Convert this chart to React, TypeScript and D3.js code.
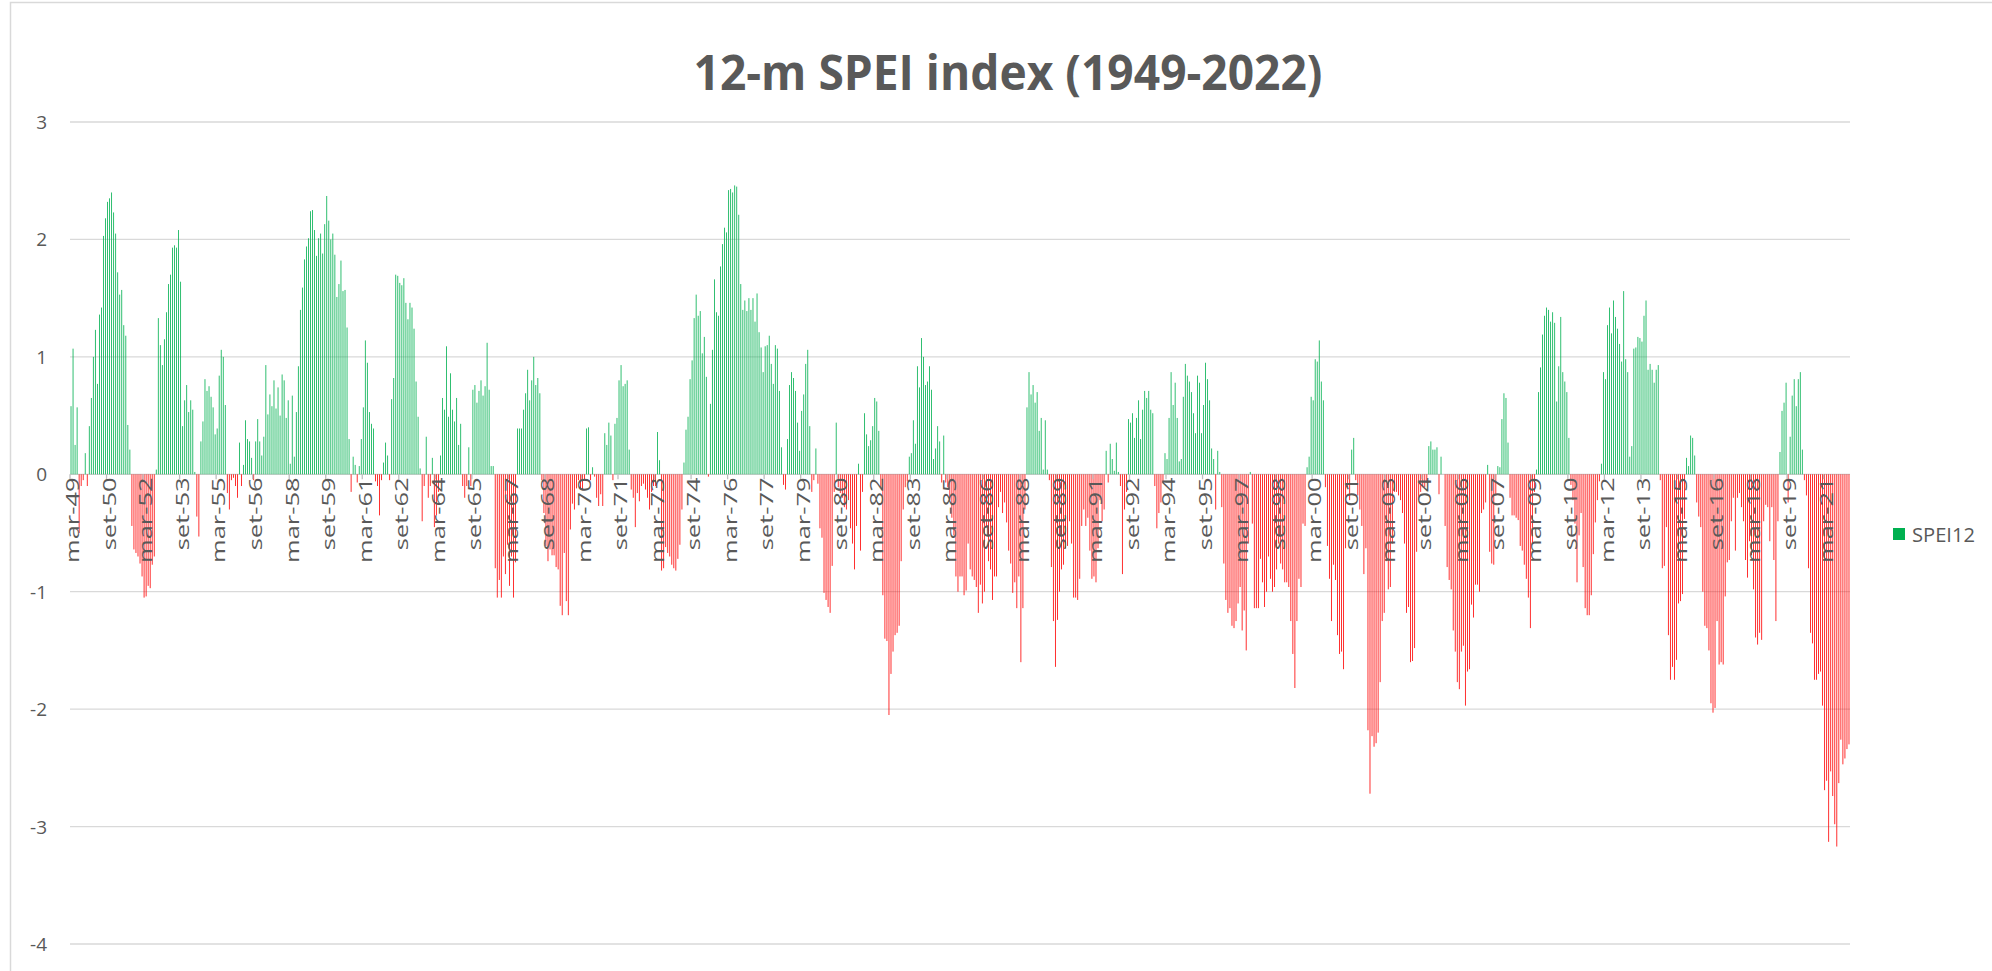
import * as d3 from 'd3'

// 12-month SPEI, monthly from mar-49 to mar-22
const speiMar49 = [
  0.58, 1.07, 0.25, 0.57, -0.5, -0.1, -0.05, 0.18, -0.1, 0.41,
  0.65, 1.0, 1.23, 0.77, 1.36, 1.42, 2.03, 2.18, 2.32, 2.35,
  2.4, 2.23, 2.05, 1.72, 1.53, 1.57, 1.27, 1.18, 0.42, 0.21,
  -0.44, -0.64, -0.67, -0.7, -0.76, -0.87, -1.05, -1.04, -0.95, -0.97,
  -0.77, -0.7, 0.04, 1.33, 1.1, 0.93, 1.15, 1.38, 1.62, 1.7,
  1.93, 1.95, 1.93, 2.08, 1.64, 0.41, 0.63, 0.76, 0.53, 0.63,
  0.55, 0.02, -0.36, -0.53, 0.28, 0.45, 0.81, 0.71, 0.75, 0.66,
  0.57, 0.34, 0.39, 0.84, 1.06, 1.0, 0.59, -0.16, -0.3, -0.05,
  -0.03, -0.1, -0.2, 0.27, -0.1, 0.08, 0.46, 0.3, 0.28, 0.14,
  -0.05, 0.28, 0.47, 0.28, 0.16, 0.32, 0.93, 0.51, 0.68, 0.58,
  0.8, 0.56, 0.74, 0.5, 0.85, 0.8, 0.48, 0.63, 0.09,
]
const speiApr58 = [
  0.67, 0.15, 0.53, 0.92, 1.4, 1.59, 1.83, 1.94, 2.01, 2.24,
  2.25, 2.08, 1.86, 2.01, 2.05, 1.88, 2.13, 2.37, 2.16, 2.0,
  2.05, 1.87, 1.51, 1.62, 1.82, 1.56, 1.57, 1.25, 0.3, -0.15,
  0.15, 0.08, -0.07, 0.07, 0.3, 0.57, 1.14, 0.95, 0.53, 0.43,
  0.39, -0.06, -0.1, -0.35, -0.05, 0.1, 0.27, 0.16, -0.05, 0.64,
  0.82, 1.7, 1.69, 1.63, 1.61, 1.67, 1.46, 1.32, 1.46, 1.42,
  1.24, 0.79, 0.49, 0.05, -0.4, -0.1, 0.32, -0.2, -0.1, 0.14,
  -0.45, -0.35, -0.15, 0.16, 0.65, 0.55, 1.09, 0.49, 0.86, 0.55,
  0.45, 0.65, 0.25, 0.43, -0.1, -0.2, -0.1, 0.23, -0.1, 0.72,
  0.76, 0.61, 0.71, 0.8, 0.67, 0.75, 1.12, 0.72, 0.07, 0.07,
  -0.8, -1.05, -0.9, -1.05, -0.7, -0.85, -0.6, -0.95, -0.7, -1.05, -0.75,
]
const speiJul67 = [
  0.39, 0.39, 0.39, 0.55, 0.69, 0.89, 0.63, 0.8, 1.0, 0.76, 0.82, 0.69,
  -0.05, -0.33, -0.61, -0.74, -0.64, -0.69, -0.69, -0.79, -0.81, -1.12, -1.2,
  -0.67, -1.08, -1.2, -0.47, -0.25, -0.3, -0.12, -0.05, -0.13, -0.13, -0.05,
  0.39, 0.4, -0.05, 0.06, -0.02, -0.2, -0.27, -0.17, -0.27, 0.35, 0.25,
  0.44, 0.33, -0.05, 0.43, 0.48, 0.8, 0.93, 0.75, 0.77, 0.8, 0.21,
  -0.13, -0.2, -0.45, -0.16, -0.23, -0.1, -0.08, -0.13, -0.2, -0.3, -0.15, -0.1, -0.1,
  0.36, 0.12,
  -0.82, -0.8, -0.62, -0.67, -0.7, -0.77, -0.8, -0.82, -0.72, -0.6, -0.3,
  0.1, 0.38, 0.49, 0.81, 0.97, 1.33, 1.53, 1.35, 1.39, 1.03, 1.17, 0.83, -0.02,
  0.6, 1.06, 1.66, 1.38, 1.35, 1.77, 1.96, 2.1, 2.06, 2.42, 2.43, 2.4, 2.46,
]
const speiJul76 = [
  2.45, 2.21, 1.62, 1.4, 1.48, 1.39, 1.5, 1.4, 1.5, 1.3,
  1.54, 1.21, 1.08, 0.87, 1.09, 1.1, 1.18, 0.94, 0.77, 1.1,
  1.07, 0.71, 0.23, -0.09, -0.13, 0.3, 0.76, 0.87, 0.82, 0.71,
  0.44, 0.2, 0.54, 0.68, 0.94, 1.06, 0.41, -0.15, -0.05, 0.22,
  -0.08, -0.46, -0.54, -1.01, -1.07, -1.13, -1.18, -0.78, -0.15, 0.44,
  -0.11, -0.16, -0.2, -0.28, -0.3, -0.22, -0.46, -0.59, -0.81, -0.44,
  0.09, -0.65, -0.15, 0.52, 0.34, 0.24, 0.29, 0.41, 0.65, 0.62,
  0.37, -0.11, -1.03, -1.4, -1.42, -2.05, -1.7, -1.51, -1.37, -1.35,
  -1.29, -0.74, -0.3, -0.11, -0.06, 0.15, 0.18, 0.46, 0.26, 0.92,
  0.74, 1.16, 1.0, 0.76, 0.79, 0.92, 0.72, 0.13, 0.22, 0.41,
  0.28, -0.07, 0.33, -0.07, -0.11, -0.22, -0.37, -0.52, -0.87, -1.0,
]
const speiSep85 = [
  -0.87, -0.87, -1.03, -0.99, -0.59, -0.81, -0.87, -0.9, -0.96, -1.18,
  -0.94, -1.1, -1.0, -0.44, -0.74, -0.81, -1.07, -0.87, -0.87, -0.28,
  -0.15, -0.33, -0.24, -0.41, -0.65, -0.76, -1.01, -0.92, -1.14, -0.87,
  -1.6, -1.14, -0.3, 0.57, 0.87, 0.68, 0.76, 0.61, 0.7, 0.37,
  0.48, 0.04, 0.46, 0.04, -0.05, -0.79, -1.25, -1.64, -1.24, -1.0,
  -0.81, -0.77, -0.63, -0.61, -0.4, -0.59, -1.05, -1.05, -1.07, -0.89,
  -0.44, -0.3, -0.44, -0.37, -0.65, -0.89, -0.87, -0.92, -0.63, -0.22,
  -0.4, -0.3, 0.2, -0.07, 0.26, 0.13, 0.03, 0.27, 0.02, -0.1,
  -0.85, -0.3, -0.15, 0.47, 0.44, 0.52, 0.31, 0.48, 0.63, 0.3,
  0.55, 0.71, 0.65, 0.71, 0.55, 0.52, -0.1, -0.46, -0.33, -0.24,
  -0.06, 0.18, 0.13, 0.48, 0.87, 0.59, 0.78, 0.48, 0.11, 0.13,
  0.66, 0.94, 0.84,
]
const speiFeb95 = [
  0.79, 0.7, 0.52, 0.35, 0.84, 0.78, 0.35, 0.59, 0.95, 0.81,
  0.63, 0.22, 0.13, -0.3, 0.2, 0.02, -0.28, -0.76, -1.07, -1.18,
  -1.14, -1.29, -1.31, -1.25, -1.1, -0.96, -1.33, -1.16, -1.5, -0.59,
  0.02, -0.42, -1.14, -1.14, -1.14, -0.72, -0.92, -1.13, -1.0, -0.7,
  -0.89, -1.0, -0.96, -0.81, -0.59, -0.76, -0.81, -0.92, -0.92, -0.96,
  -1.25, -1.53, -1.82, -1.25, -0.89, -0.96, -0.42, -0.44, 0.06, 0.15,
  0.66, 0.63, 0.98, 0.96, 1.14, 0.79, 0.63, -0.11, -0.61, -0.89,
  -1.25, -0.77, -0.9, -1.37, -1.53, -1.51, -1.66, -0.63, -0.11, -0.22,
  0.21, 0.31, -0.05, -0.18, -0.3, -0.44, -0.85, -0.63, -2.18, -2.72,
  -2.23, -2.32, -2.29, -2.2, -1.77, -1.25, -1.18, -0.74, -0.98, -0.96,
  -0.59, -0.15, -0.15, -0.18, -0.22, -0.33, -0.59, -1.18,
]
const speiFeb04 = [
  -1.13, -1.6, -1.59, -1.48, -0.66, -0.22, -0.15, -0.11, -0.11, -0.07,
  0.24, 0.28, 0.21, 0.21, 0.23, -0.17, 0.15, 0, -0.44, -0.79,
  -0.9, -0.98, -1.33, -1.51, -1.77, -1.83, -1.51, -1.46, -1.97, -1.68,
  -1.66, -1.11, -1.22, -0.94, -0.94, -1.0, -0.33, -0.3, -0.24, 0.08,
  -0.66, -0.76, -0.77, -0.18, 0.07, 0.06, 0.47, 0.69, 0.65, 0.27,
  -0.2, -0.35, -0.35, -0.37, -0.39, -0.61, -0.65, -0.77, -0.89, -1.05,
  -1.31, -0.59, -0.15, 0.04, 0.7, 0.91, 1.19, 1.35, 1.42, 1.4,
  1.3, 1.38, 1.29, 0.62, 0.92, 1.34, 0.87, 0.79, 0.7, 0.31,
  -0.09, -0.22, -0.42, -0.92, -0.52, -0.33, -0.79, -1.14, -1.2, -1.2,
  -1.03, -0.68, -0.41, -0.22, -0.06, 0.09, 0.87, 0.81, 1.27, 1.42,
  1.2, 1.48, 1.34, 1.24, 1.11, 0.96, 1.56, 0.98, 0.87, 0.15,
  0.24, 1.07,
]
const speiJun13 = [
  1.08, 1.17, 1.16, 1.13, 1.35, 1.48, 0.89, 0.94, 0.89, 0.78,
  0.89, 0.93, -0.05, -0.8, -0.78, -0.45, -1.37, -1.75, -1.64, -1.75,
  -1.58, -1.1, -1.08, -1.02, -0.38, 0.14, 0.07, 0.33, 0.31, 0.16,
  -0.24, -0.36, -0.45, -1.0, -1.29, -1.31, -1.5, -1.95, -2.03, -1.99,
  -1.25, -1.62, -1.6, -1.62, -1.04, -0.75, -0.73, -0.4, -0.2, -0.65,
  -0.2, -0.16, -0.28, -0.4, -0.73, -0.88, -0.57, -0.69, -0.98, -1.39,
  -1.45, -1.35, -1.41, -0.4, -0.26, -0.28, -0.57, -0.28, -0.73, -1.25,
  -0.4, 0.19, 0.54, 0.61, 0.78, -0.24, 0.32, 0.67, 0.81, 0.58,
  0.81, 0.87, 0.21, -0.05, -0.18, -0.8, -1.35, -1.44, -1.75, -1.75,
  -1.7, -1.68, -1.97, -2.69, -2.61, -3.13, -2.53, -2.74, -2.98, -3.17,
  -2.63, -2.26, -2.47, -2.42, -2.34, -2.3,
]

const spei12 = [
  ...speiMar49, ...speiApr58, ...speiJul67, ...speiJul76,
  ...speiSep85, ...speiFeb95, ...speiFeb04, ...speiJun13,
]

// one label every 18 months
const xTickLabels = [
  'mar-49', 'set-50', 'mar-52', 'set-53', 'mar-55', 'set-56', 'mar-58', 'set-59',
  'mar-61', 'set-62', 'mar-64', 'set-65', 'mar-67', 'set-68', 'mar-70', 'set-71',
  'mar-73', 'set-74', 'mar-76', 'set-77', 'mar-79', 'set-80', 'mar-82', 'set-83',
  'mar-85', 'set-86', 'mar-88', 'set-89', 'mar-91', 'set-92', 'mar-94', 'set-95',
  'mar-97', 'set-98', 'mar-00', 'set-01', 'mar-03', 'set-04', 'mar-06', 'set-07',
  'mar-09', 'set-10', 'mar-12', 'set-13', 'mar-15', 'set-16', 'mar-18', 'set-19',
  'mar-21',
]
const labelEvery = 18
const yTicks = [3, 2, 1, 0, -1, -2, -3, -4]

const seriesName = 'SPEI12'
const title = '12-m SPEI index (1949-2022)'

const green = '#00b050'
const red = '#ff0000'
const textGrey = '#595959'
const gridGrey = '#d9d9d9'
const font = "'Open Sans', 'DejaVu Sans', sans-serif"

export default function App() {
  const width = 1992
  const height = 971
  const margin = { left: 70, right: 142, top: 122, bottom: 27 }

  const x = d3
    .scaleBand<number>()
    .domain(d3.range(spei12.length))
    .range([margin.left, width - margin.right])
    .paddingInner(0.6)
    .paddingOuter(0.3)

  const y = d3
    .scaleLinear()
    .domain([-4, 3])
    .range([height - margin.bottom, margin.top])

  const step = x.step()
  const gap = (step - x.bandwidth()) / 2
  const y0 = y(0)

  return (
    <svg
      width={width}
      height={height}
      style={{ position: 'absolute', left: 0, top: 0, background: '#fff' }}
      fontFamily={font}
    >
      {/* chart area border */}
      <rect x={10.5} y={2.5} width={width + 20} height={height + 20} fill="none" stroke={gridGrey} strokeWidth={1.5} />

      <text
        x={(margin.left + width - margin.right) / 2 + 48}
        y={89.5}
        textAnchor="middle"
        fontSize={48}
        fontWeight="bold"
        fill={textGrey}
        textLength={629}
        lengthAdjust="spacingAndGlyphs"
      >
        {title}
      </text>

      {/* gridlines and y labels */}
      <g>
        {yTicks.map((t) => (
          <g key={t}>
            <line
              x1={margin.left}
              x2={width - margin.right}
              y1={y(t)}
              y2={y(t)}
              stroke={t === 0 ? '#cfcfcf' : gridGrey}
              strokeWidth={1.3}
            />
            <text x={47} y={y(t)} textAnchor="end" dominantBaseline="central" fontSize={19} fill={textGrey}>
              {t}
            </text>
          </g>
        ))}
      </g>

      {/* bars */}
      <g>
        {spei12.map((v, i) => (
          <rect
            key={i}
            x={x(i)}
            width={x.bandwidth()}
            y={v >= 0 ? y(v) : y0}
            height={Math.abs(y(v) - y0)}
            fill={v >= 0 ? green : red}
          />
        ))}
      </g>

      {/* x ticks and rotated labels */}
      <g>
        {xTickLabels.map((lab, k) => {
          const i = k * labelEvery
          const tx = (x(i) as number) - gap
          const cx = (x(i) as number) + x.bandwidth() / 2 + 1
          return (
            <g key={lab}>
              <line x1={tx} x2={tx} y1={y0} y2={y0 + 5} stroke="#bfbfbf" strokeWidth={1.3} />
              <text
                transform={`translate(${cx},${y0 + 3}) rotate(-90) scale(1.42,1)`}
                textAnchor="end"
                dominantBaseline="central"
                fontSize={18}
                fill={textGrey}
              >
                {lab}
              </text>
            </g>
          )
        })}
      </g>

      {/* legend */}
      <g transform="translate(1893,528)">
        <rect width={12} height={12} fill={green} />
        <text x={19} y={6} dominantBaseline="central" fontSize={20} fill={textGrey} textLength={63} lengthAdjust="spacingAndGlyphs">
          {seriesName}
        </text>
      </g>
    </svg>
  )
}
